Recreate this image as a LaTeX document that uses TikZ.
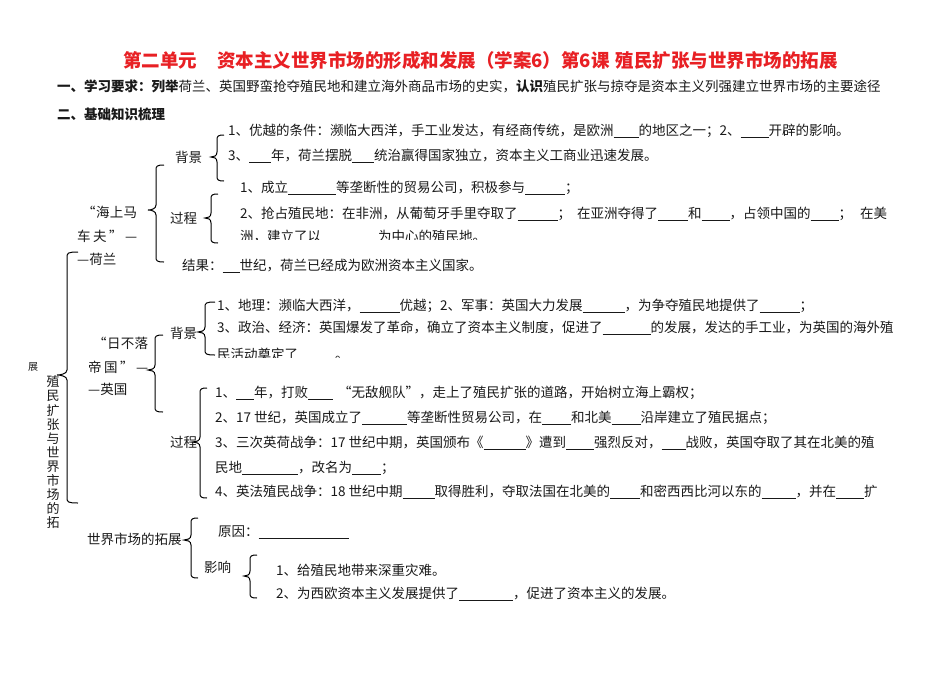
\documentclass[tikz,border=0pt]{standalone}
\usepackage{fontspec}
\setmainfont{Noto Sans CJK SC}
\definecolor{titlered}{RGB}{232,32,36}
\definecolor{bodyink}{RGB}{25,25,25}
\newcommand\bl[1]{\rule[-2.5pt]{#1pt}{0.7pt}}
\newcommand\fz[1]{\fontsize{#1}{#1}\selectfont}
% brace: #1 xtip, #2 xmid, #3 xend, #4 ytop, #5 ytip, #6 ybottom
\newcommand\brc[6]{%
  \draw[bracestyle] (#3,#4) .. controls ({#2+1},#4) and (#2,{#4+1}) .. (#2,{#4+5})
    -- (#2,{#5-5}) .. controls (#2,{#5-1}) and ({#1+3},#5) .. (#1,#5)
    .. controls ({#1+3},#5) and (#2,{#5+1}) .. (#2,{#5+5})
    -- (#2,{#6-5}) .. controls (#2,{#6-1}) and ({#2+1},#6) .. (#3,#6);}
\begin{document}
\begin{tikzpicture}[x=1pt,y=-1pt,
  t/.style={anchor=base west, inner sep=0pt, font=\fz{13.5}, text=bodyink},
  bracestyle/.style={line width=1pt, black}]
\fill[white] (0,0) rectangle (950,673);
\useasboundingbox (0,0) rectangle (950,673);

% title and headers
\node[t, font=\fz{18.5}\bfseries, text=titlered] (title1) at (123,67) {第二单元};
\node[t, font=\fz{18.5}\bfseries, text=titlered] (title2) at (217,67) {资本主义世界市场的形成和发展（学案6）第6课\hspace{6pt}殖民扩张与世界市场的拓展};
\node[t, font=\fz{13.5}] (req) at (57,91) {\textbf{一、学习要求：列举}荷兰、英国野蛮抢夺殖民地和建立海外商品市场的史实，\textbf{认识}殖民扩张与掠夺是资本主义列强建立世界市场的主要途径};
\node[t, font=\fz{13.5}\bfseries] (sec2) at (57,119) {二、基础知识梳理};

% Holland
\node[t] (hl1) at (82,217) {\makebox[55pt][s]{“\hfill 海\hfill 上\hfill 马}};
\node[t] (hl2) at (77,241) {\makebox[60pt][s]{车\hfill 夫\hfill ”\hfill —}};
\node[t] (hl3) at (77,264) {—荷兰};
\brc{148}{156}{164}{165}{210}{262}

\node[t] (hbg) at (175,162) {背景};
\brc{211}{217}{224}{135}{157}{181}
\node[t] (hb1) at (228,135) {1、优越的条件：濒临大西洋，手工业发达，有经商传统，是欧洲\bl{25}的地区之一；2、\bl{28}开辟的影响。};
\node[t] (hb3) at (228,160) {3、\bl{22}年，荷兰摆脱\bl{22}统治赢得国家独立，资本主义工商业迅速发展。};

\node[t] (hgc) at (170,223) {过程};
\brc{205}{211}{218}{194}{218}{243}
\node[t] (hp1) at (240,192) {1、成立\bl{48}等垄断性的贸易公司，积极参与\bl{40}；};
\node[t] (hp2) at (240,218) {2、抢占殖民地：在非洲，从葡萄牙手里夺取了\bl{40}；\hspace{6pt}在亚洲夺得了\bl{30}和\bl{28}，占领中国的\bl{28}；\hspace{8pt}在美};
\begin{scope}
  \clip (230,222) rectangle (620,239);
  \node[t] (hp3) at (240,241) {洲，建立了以\bl{57}为中心的殖民地。};
\end{scope}
\node[t] (hres) at (182,270) {结果：\bl{17}世纪，荷兰已经成为欧洲资本主义国家。};

% England
\node[t] (el1) at (93,348) {\makebox[55pt][s]{“\hfill 日\hfill 不\hfill 落}};
\node[t] (el2) at (88,372) {\makebox[60pt][s]{帝\hfill 国\hfill ”\hfill —}};
\node[t] (el3) at (88,394) {—英国};
\brc{148}{155}{163}{335}{370}{412}

\node[t] (ebg) at (170,338) {背景};
\brc{198}{205}{215}{302}{332}{355}
\node[t] (eb1) at (217,310) {1、地理：濒临大西洋，\bl{40}优越；2、军事：英国大力发展\bl{42}，为争夺殖民地提供了\bl{40}；};
\node[t] (eb3) at (217,332) {3、政治、经济：英国爆发了革命，确立了资本主义制度，促进了\bl{48}的发展，发达的手工业，为英国的海外殖};
\begin{scope}
  \clip (210,340) rectangle (620,357);
  \node[t] (eb4) at (217,359) {民活动奠定了\hspace{37pt}。};
\end{scope}

\node[t] (egc) at (170,447) {过程};
\brc{193}{200}{207}{388}{442}{498}
\node[t] (ep1) at (215,397) {1、\bl{18}年，打败\bl{25}\hspace{5pt}“无敌舰队”，走上了殖民扩张的道路，开始树立海上霸权；};
\node[t] (ep2) at (215,422) {2、17 世纪，英国成立了\bl{45}等垄断性贸易公司，在\bl{29}和北美\bl{29}沿岸建立了殖民据点；};
\node[t] (ep3) at (215,447) {3、三次英荷战争：17 世纪中期，英国颁布《\bl{42}》遭到\bl{28}强烈反对，\bl{24}战败，英国夺取了其在北美的殖};
\node[t] (ep4) at (215,472) {民地\bl{56}，改名为\bl{29}；};
\node[t] (ep5) at (215,496) {4、英法殖民战争：18 世纪中期\bl{32}取得胜利，夺取法国在北美的\bl{30}和密西西比河以东的\bl{34}，并在\bl{28}扩};

% left big brace and vertical title
\brc{57}{67}{78}{252}{375}{503}
\foreach \c [count=\i] in {殖,民,扩,张,与,世,界,市,场,的,拓}
  \node[font=\fz{13}, text=bodyink, inner sep=0pt] (v\i) at (53,{382+(\i-1)*14.1}) {\c};
\node[font=\fz{10}, text=bodyink, inner sep=0pt] (zhan) at (33,367) {展};

% world market
\node[t] (wm) at (87,544) {世界市场的拓展};
\brc{184}{191}{198}{518}{540}{578}
\node[t] (wy) at (218,536) {原因：\bl{90}};
\node[t] (wi) at (204,572) {影响};
\brc{244}{250}{257}{555}{576}{598}
\node[t] (wi1) at (276,575) {1、给殖民地带来深重灾难。};
\node[t] (wi2) at (276,598) {2、为西欧资本主义发展提供了\bl{54}，促进了资本主义的发展。};
\end{tikzpicture}
\end{document}
